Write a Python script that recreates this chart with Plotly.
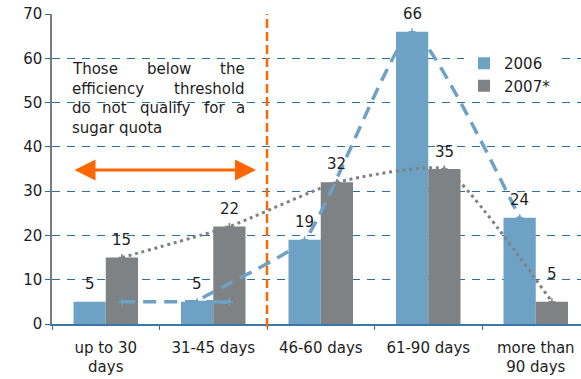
import plotly.graph_objects as go

# Processing-season length classes and share of producers (%)
categories = ["up to 30<br>days", "31-45 days", "46-60 days", "61-90 days", "more than<br>90 days"]
share_2006 = [5, 5, 19, 66, 24]
share_2007 = [15, 22, 32, 35, 5]
series_names = ["2006", "2007*"]
y_ticks = [0, 10, 20, 30, 40, 50, 60, 70]

BLUE = "#6DA2C5"
GRAY = "#7F8285"
ORANGE = "#FF6600"
GRID = "#2E6E9E"
TEXT = "#1E1E1E"
FONT = "DejaVu Sans"

n = len(categories)
xpos = list(range(n))
half = 0.15  # half of a bar slot, in category units

fig = go.Figure()

fig.add_trace(go.Bar(x=xpos, y=share_2006, name=series_names[0],
                     marker=dict(color=BLUE, line=dict(width=0))))
fig.add_trace(go.Bar(x=xpos, y=share_2007, name=series_names[1],
                     marker=dict(color=GRAY, line=dict(width=0))))

# Smoothed trend through the 2006 bars (the second class is visited twice,
# once at each bar of the pair, which gives the little hook)
trend06_x = [xpos[0] + half, xpos[1] + half, xpos[1] - half] + [i - half for i in xpos[2:]]
trend06_y = [share_2006[0], share_2006[1], share_2006[1]] + share_2006[2:]
fig.add_trace(go.Scatter(
    x=trend06_x, y=trend06_y, mode="lines+markers", showlegend=False,
    line=dict(color=BLUE, width=3.5, dash="13px,8px", shape="spline", smoothing=0.45),
    marker=dict(symbol="cross-thin", size=5, line=dict(color=BLUE, width=1.5)),
    hoverinfo="skip"))

# Smoothed trend through the 2007 bars
fig.add_trace(go.Scatter(
    x=[i + half for i in xpos], y=share_2007, mode="lines+markers", showlegend=False,
    line=dict(color=GRAY, width=3, dash="3px,3.7px", shape="spline", smoothing=0.45),
    marker=dict(symbol="cross-thin", size=5, line=dict(color=GRAY, width=1.5)),
    hoverinfo="skip"))

annotations = []
# Value labels above each bar
shift_06 = [18, 18, 18, 18, 18]
shift_07 = [18, 18, 18, 17, 28]
for i in xpos:
    annotations.append(dict(x=i - half, y=share_2006[i], text=str(share_2006[i]),
                            showarrow=False, yshift=shift_06[i],
                            font=dict(family=FONT, size=15, color=TEXT)))
    annotations.append(dict(x=i + half, y=share_2007[i], text=str(share_2007[i]),
                            showarrow=False, yshift=shift_07[i],
                            font=dict(family=FONT, size=15, color=TEXT)))

# Justified note block, word by word (pixel -> paper conversion)
L, T, W, H = 52, 14, 529, 310
def px(xp):
    return (xp - L) / W
def py(yp):
    return (T + H - yp) / H

note_words = [
    ("Those", 70, 69, "left"), ("below", 169, 69, "center"), ("the", 247, 69, "right"),
    ("efficiency", 70, 89, "left"), ("threshold", 247, 89, "right"),
    ("do", 70, 108, "left"), ("not", 114, 108, "center"), ("qualify", 165, 108, "center"),
    ("for", 214, 108, "center"), ("a", 247, 108, "right"),
    ("sugar quota", 70, 128, "left"),
]
for word, xp, yp, anchor in note_words:
    annotations.append(dict(xref="paper", yref="paper", x=px(xp), y=py(yp), text=word,
                            showarrow=False, xanchor=anchor, yanchor="middle",
                            font=dict(family=FONT, size=15, color=TEXT)))

# Double-headed arrow spanning the first two classes
annotations.append(dict(xref="paper", yref="paper", x=px(256), y=py(170), text="",
                        showarrow=True, ax=-(256 - 73), ay=0, axref="pixel", ayref="pixel",
                        arrowside="end+start", arrowhead=2, arrowsize=1.4,
                        arrowwidth=3, arrowcolor=ORANGE, standoff=0, startstandoff=0))

fig.update_layout(
    width=581, height=379,
    margin=dict(l=L, r=0, t=T, b=379 - T - H, pad=0),
    paper_bgcolor="white", plot_bgcolor="white",
    barmode="group", bargap=0.4, bargroupgap=0,
    font=dict(family=FONT, size=15, color=TEXT),
    showlegend=True,
    legend=dict(x=px(464), y=py(47), xanchor="left", yanchor="top",
                bgcolor="white", borderwidth=0, itemwidth=30,
                font=dict(family=FONT, size=15, color=TEXT), tracegroupgap=0),
    annotations=annotations,
    shapes=[dict(type="line", xref="x", yref="paper", x0=1.5, x1=1.5, y0=-0.01, y1=1.0,
                 line=dict(color=ORANGE, width=2.5, dash="9px,4px"), layer="above")],
)

fig.update_xaxes(
    range=[-0.5, -0.5 + W / 107.5],
    tickmode="array", tickvals=xpos, ticktext=categories,
    ticks="outside", ticklen=9, tickcolor="rgba(0,0,0,0)",
    minor=dict(tickmode="array", tickvals=[i - 0.5 for i in range(n + 1)],
               ticks="outside", ticklen=4, tickcolor=GRID, tickwidth=1, showgrid=False),
    showline=True, linecolor="#3A78A8", linewidth=1.5,
    showgrid=False, zeroline=False,
    tickfont=dict(family=FONT, size=15, color=TEXT),
)
fig.update_yaxes(
    range=[0, 70], tickmode="array", tickvals=y_ticks,
    ticks="outside", ticklen=5, tickcolor=GRID,
    showline=True, linecolor="#7A7A7A", linewidth=1.5,
    showgrid=True, gridcolor=GRID, gridwidth=1, griddash="8px,7px",
    zeroline=False,
    tickfont=dict(family=FONT, size=15, color=TEXT),
)

fig.write_html("out.html")
